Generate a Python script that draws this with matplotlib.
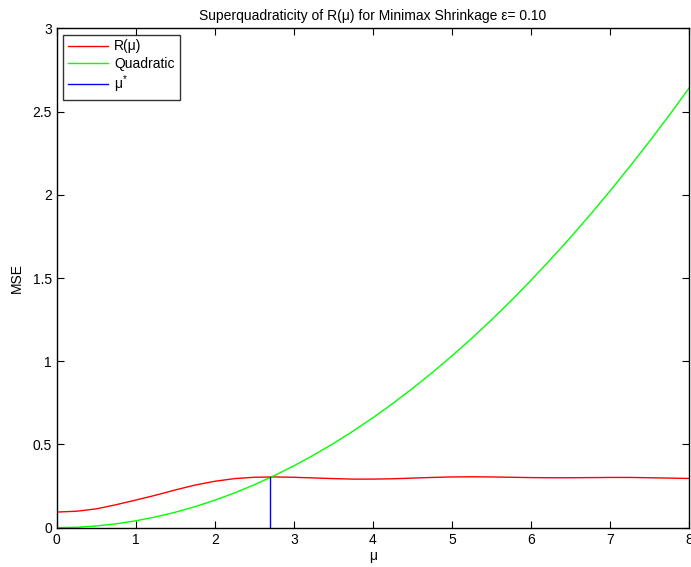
import numpy as np
import matplotlib.pyplot as plt

plt.rcParams['font.family'] = ['Liberation Sans', 'DejaVu Sans']
plt.rcParams['mathtext.default'] = 'regular'

# values
mu = [0.0, 0.25, 0.5, 0.75, 1.0, 1.25, 1.5, 1.75, 2.0, 2.25, 2.5, 2.75, 3.0,
      3.25, 3.5, 3.75, 4.0, 4.25, 4.5, 4.75, 5.0, 5.25, 5.5, 5.75, 6.0,
      6.25, 6.5, 6.75, 7.0, 7.25, 7.5, 7.75, 8.0]
risk = [0.094, 0.099, 0.113, 0.138, 0.166, 0.195, 0.227, 0.256, 0.279, 0.295,
        0.303, 0.305, 0.303, 0.299, 0.295, 0.292, 0.292, 0.294, 0.298, 0.302,
        0.305, 0.306, 0.305, 0.303, 0.301, 0.300, 0.300, 0.301, 0.302, 0.302,
        0.300, 0.298, 0.296]
quad = [0.0, 0.0026, 0.0103, 0.0232, 0.0413, 0.0645, 0.0929, 0.1265, 0.1652,
        0.2091, 0.2581, 0.3123, 0.3717, 0.4362, 0.5059, 0.5808, 0.6608, 0.746,
        0.8364, 0.932, 1.0325, 1.138, 1.249, 1.365, 1.487, 1.614, 1.745, 1.882,
        2.024, 2.171, 2.323, 2.480, 2.643]
mu_star = 2.7
r_star = 0.305

fig = plt.figure(figsize=(6.91, 5.67), dpi=100)
ax = fig.add_axes([0.082, 0.0693, 0.9155, 0.8807])

ax.plot(mu, risk, color='r', lw=1, label='R(μ)')
ax.plot(mu, quad, color=(0, 1, 0), lw=1, label='Quadratic')
ax.plot([mu_star, mu_star], [0, r_star], color='b', lw=1, label='μ$^{*}$')

ax.set_xlim(0, 8)
ax.set_ylim(0, 3)
ax.set_xticks(range(9))
ax.set_yticks([0, 0.5, 1, 1.5, 2, 2.5, 3])
ax.set_yticklabels(['0', '0.5', '1', '1.5', '2', '2.5', '3'])
ax.tick_params(direction='in', top=True, right=True, labelsize=10, length=5)
for s in ax.spines.values():
    s.set_linewidth(1)

ax.set_title('Superquadraticity of R(μ) for Minimax Shrinkage ε= 0.10', fontsize=10, pad=6)
ax.set_xlabel('μ', fontsize=10, labelpad=2)
ax.set_ylabel('MSE', fontsize=10, labelpad=6)

leg = ax.legend(loc='upper left', fontsize=10, frameon=True, fancybox=False,
                edgecolor='k', borderaxespad=0.45, handlelength=2.9,
                handletextpad=0.45, labelspacing=0.22, borderpad=0.35)
leg.get_frame().set_linewidth(1)

fig.savefig('out.png', dpi=100)
